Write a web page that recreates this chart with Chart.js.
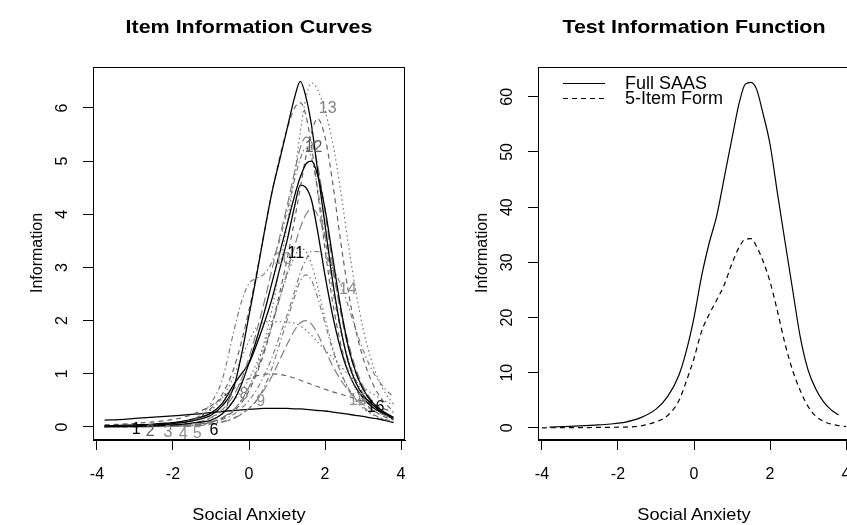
<!DOCTYPE html>
<html>
<head>
<meta charset="utf-8">
<title>Item and Test Information</title>
<script src="https://cdn.jsdelivr.net/npm/chart.js@4.4.0/dist/chart.umd.min.js"></script>
<style>
  html, body { margin: 0; padding: 0; background: #fff; overflow: hidden; }
  body { position: relative; width: 847px; height: 525px; font-family: "Liberation Sans", Arial, Helvetica, sans-serif; color: #000; }
  canvas { position: absolute; top: 0; }
  #itemChart { left: 0; }
  #testChart { left: 423px; }
  .title { position: absolute; top: 17px; font-size: 19px; line-height: 20px; font-weight: bold; transform: translateX(-50%) scaleX(1.13); white-space: nowrap; }
  .xlab { position: absolute; top: 506px; font-size: 17px; line-height: 18px; transform: translateX(-50%) scaleX(1.07); white-space: nowrap; }
  .ylab { position: absolute; top: 253px; font-size: 16px; line-height: 18px; transform: translate(-50%, -50%) rotate(-90deg); white-space: nowrap; }
</style>
</head>
<body>
<canvas id="itemChart" width="423" height="525"></canvas>
<canvas id="testChart" width="450" height="525"></canvas>

<div class="title" style="left:249px">Item Information Curves</div>
<div class="title" style="left:694px">Test Information Function</div>
<div class="xlab" style="left:249px">Social Anxiety</div>
<div class="xlab" style="left:694px">Social Anxiety</div>
<div class="ylab" style="left:37px">Information</div>
<div class="ylab" style="left:482px">Information</div>

<script>
// --- data ---

// theta grid shared by the item curves and the full scale
const theta = [-3.8, -3.4, -3.0, -2.6, -2.2, -1.8, -1.4, -1.0, -0.7, -0.4, -0.2, 0, 0.2, 0.4, 0.6, 0.8, 1.0, 1.2, 1.35, 1.5, 1.65, 1.8, 2.0, 2.2, 2.4, 2.6, 2.8, 3.0, 3.2, 3.4, 3.6, 3.8];
// the short form curve runs a bit wider
const thetaShort = [-4.0, -3.8, -3.4, -3.0, -2.6, -2.2, -1.8, -1.4, -1.0, -0.7, -0.4, -0.2, 0, 0.2, 0.4, 0.6, 0.8, 1.0, 1.2, 1.35, 1.5, 1.65, 1.8, 2.0, 2.2, 2.4, 2.6, 2.8, 3.0, 3.2, 3.4, 3.6, 3.8, 4.0];

const item1  = [0.13, 0.14, 0.16, 0.18, 0.2, 0.22, 0.24, 0.27, 0.29, 0.31, 0.32, 0.33, 0.34, 0.35, 0.35, 0.35, 0.35, 0.34, 0.34, 0.33, 0.32, 0.31, 0.3, 0.28, 0.26, 0.24, 0.22, 0.2, 0.17, 0.15, 0.12, 0.08];
const item2  = [0.04, 0.05, 0.07, 0.09, 0.12, 0.17, 0.26, 0.4, 0.55, 0.72, 0.83, 0.91, 0.96, 0.99, 1.0, 0.99, 0.96, 0.92, 0.88, 0.84, 0.8, 0.76, 0.71, 0.66, 0.62, 0.58, 0.53, 0.48, 0.43, 0.38, 0.33, 0.28];
const item3  = [0.01, 0.01, 0.02, 0.03, 0.05, 0.09, 0.16, 0.32, 0.55, 0.95, 1.3, 1.62, 1.88, 1.97, 1.98, 1.98, 1.97, 1.95, 1.9, 1.82, 1.72, 1.6, 1.45, 1.3, 1.15, 1.0, 0.87, 0.75, 0.65, 0.56, 0.48, 0.41];
const item4  = [0.01, 0.01, 0.02, 0.03, 0.05, 0.08, 0.16, 0.45, 0.9, 1.8, 2.35, 2.7, 2.8, 2.88, 3.1, 3.5, 4.05, 4.65, 5.05, 5.25, 5.05, 4.5, 3.55, 2.6, 1.85, 1.3, 0.9, 0.64, 0.46, 0.34, 0.25, 0.18];
const item5  = [0.0, 0.01, 0.01, 0.01, 0.02, 0.03, 0.05, 0.1, 0.18, 0.33, 0.5, 0.75, 1.05, 1.45, 1.9, 2.4, 2.9, 3.4, 3.75, 4.0, 4.1, 4.0, 3.6, 2.95, 2.25, 1.62, 1.12, 0.77, 0.53, 0.37, 0.26, 0.18];
const item6  = [0.02, 0.03, 0.04, 0.05, 0.07, 0.1, 0.16, 0.26, 0.45, 0.8, 1.0, 1.2, 1.55, 1.95, 2.4, 2.95, 3.5, 4.15, 4.55, 4.5, 4.25, 3.7, 2.85, 2.1, 1.5, 1.05, 0.75, 0.55, 0.4, 0.3, 0.22, 0.15];
const item7  = [0.0, 0.01, 0.01, 0.02, 0.04, 0.08, 0.16, 0.35, 0.62, 1.1, 1.6, 2.2, 2.9, 3.65, 4.4, 5.05, 5.6, 6.0, 6.1, 5.85, 5.25, 4.45, 3.35, 2.35, 1.6, 1.08, 0.73, 0.5, 0.35, 0.25, 0.18, 0.13];
const item8  = [0.0, 0.0, 0.01, 0.01, 0.02, 0.04, 0.08, 0.17, 0.3, 0.5, 0.68, 0.9, 1.2, 1.55, 1.95, 2.4, 2.85, 3.2, 3.35, 3.3, 3.05, 2.65, 2.05, 1.5, 1.05, 0.73, 0.5, 0.35, 0.25, 0.18, 0.13, 0.09];
const item9  = [0.0, 0.0, 0.0, 0.01, 0.01, 0.02, 0.03, 0.06, 0.1, 0.17, 0.25, 0.35, 0.5, 0.75, 1.1, 1.55, 2.0, 2.45, 2.75, 2.86, 2.75, 2.45, 1.95, 1.45, 1.05, 0.75, 0.53, 0.38, 0.27, 0.19, 0.14, 0.1];
const item10 = [0.0, 0.0, 0.01, 0.01, 0.02, 0.04, 0.08, 0.18, 0.33, 0.6, 0.9, 1.3, 1.8, 2.35, 2.95, 3.55, 4.15, 4.8, 5.25, 5.45, 5.35, 4.95, 4.05, 3.05, 2.2, 1.52, 1.03, 0.7, 0.48, 0.33, 0.23, 0.16];
const item11 = [0.01, 0.01, 0.02, 0.03, 0.05, 0.08, 0.13, 0.22, 0.4, 0.75, 1.35, 2.1, 2.85, 3.65, 4.4, 5.0, 5.6, 6.2, 6.5, 6.2, 5.65, 4.85, 3.8, 2.75, 1.9, 1.25, 0.85, 0.6, 0.45, 0.33, 0.24, 0.15];
const item12 = [0.0, 0.0, 0.0, 0.01, 0.01, 0.02, 0.04, 0.09, 0.16, 0.3, 0.45, 0.68, 1.0, 1.4, 1.9, 2.5, 3.15, 3.9, 4.5, 5.1, 5.55, 5.8, 5.45, 4.6, 3.55, 2.6, 1.85, 1.3, 0.9, 0.62, 0.43, 0.3];
const item13 = [0.0, 0.0, 0.0, 0.01, 0.01, 0.02, 0.04, 0.09, 0.17, 0.32, 0.5, 0.75, 1.1, 1.6, 2.2, 2.95, 3.8, 4.75, 5.55, 6.2, 6.47, 6.35, 5.95, 5.35, 4.5, 3.5, 2.6, 1.85, 1.3, 0.9, 0.62, 0.43];
const item14 = [0.0, 0.0, 0.0, 0.01, 0.01, 0.02, 0.04, 0.08, 0.14, 0.24, 0.35, 0.5, 0.7, 0.97, 1.3, 1.7, 2.1, 2.55, 2.9, 3.15, 3.3, 3.3, 3.2, 3.0, 2.7, 2.3, 1.85, 1.45, 1.12, 0.88, 0.7, 0.57];
const item15 = [0.0, 0.0, 0.0, 0.0, 0.01, 0.01, 0.02, 0.05, 0.09, 0.16, 0.24, 0.35, 0.5, 0.7, 0.95, 1.25, 1.55, 1.82, 1.96, 2.0, 1.93, 1.76, 1.45, 1.15, 0.9, 0.7, 0.55, 0.43, 0.34, 0.27, 0.21, 0.17];
const item16 = [0.01, 0.01, 0.01, 0.02, 0.03, 0.05, 0.08, 0.13, 0.25, 0.5, 0.8, 1.2, 1.65, 2.15, 2.7, 3.25, 3.8, 4.35, 4.7, 4.95, 5.0, 4.75, 4.1, 3.2, 2.3, 1.55, 1.05, 0.72, 0.5, 0.36, 0.26, 0.18];

const itemSeries = [item1, item2, item3, item4, item5, item6, item7, item8, item9, item10, item11, item12, item13, item14, item15, item16];

// where the item numbers are printed (theta, information)
const itemLabelX = [-2.97, -2.6, -2.13, -1.73, -1.36, -0.92, -0.55, -0.13, 0.31, 0.89, 1.23, 1.7, 2.07, 2.6, 2.86, 3.33];
const itemLabelY = [-0.05, -0.08, -0.1, -0.14, -0.13, -0.06, 0.47, 0.6, 0.47, 3.14, 3.27, 5.26, 5.98, 2.58, 0.5, 0.36];

// test information
const fullSaas = [0.15, 0.25, 0.35, 0.5, 0.7, 1.05, 1.85, 3.4, 5.6, 9.5, 14, 20, 27.5, 33.5, 38.5, 45.5, 52.5, 59.2, 62.3, 62.6, 61.3, 57.4, 51.4, 42.3, 33.5, 24.8, 16.3, 10.5, 7.1, 4.8, 3.3, 2.35];
const fiveItem = [0.01, 0.02, 0.03, 0.05, 0.07, 0.1, 0.15, 0.35, 1.1, 2.2, 4.9, 8.5, 12.6, 17.5, 20.6, 23.2, 26.0, 29.8, 32.9, 34.2, 34.3, 32.8, 30.5, 26.5, 21.0, 15.1, 10.3, 6.7, 3.9, 2.15, 1.2, 0.7, 0.42, 0.24];
const testLegend = ['Full SAAS', '5-Item Form'];

// tick labels
const xTicks = [-4, -2, 0, 2, 4];
const itemYTicks = [0, 1, 2, 3, 4, 5, 6];
const testYTicks = [0, 10, 20, 30, 40, 50, 60];

// --- styles (R cycles 5 line types / colours) ---
const lineDashes = [[], [5, 4], [1.5, 3], [1.5, 3, 5, 3], [9, 4]];
const lineColors = ['#000000', '#5f5f5f', '#707070', '#787878', '#7c7c7c'];
const labelColors = ['#000000', '#5e5e5e', '#858585', '#8c8c8c', '#8f8f8f'];
const fontFamily = '"Liberation Sans", Arial, Helvetica, sans-serif';

Chart.defaults.font.family = fontFamily;
Chart.defaults.color = '#000';

function toPoints(xs, ys) {
    return ys.map((v, j) => ({ x: xs[j], y: v }));
}

// scale setup shared by both panels
function makeScales(yMin, yMax, yTicks, axisWidth, labelPad) {
    return {
        x: {
            type: 'linear', min: -4.104, max: 4.104,
            afterBuildTicks: s => { s.ticks = xTicks.map(v => ({ value: v })); },
            afterFit: s => { s.height = 85; },
            grid: { drawOnChartArea: false, drawTicks: true, tickLength: 10, color: '#000', tickColor: '#000' },
            border: { display: true, color: '#000', width: 1 },
            ticks: { color: '#000', font: { size: 16 }, padding: 15, maxRotation: 0, autoSkip: false }
        },
        y: {
            type: 'linear', min: yMin, max: yMax,
            afterBuildTicks: s => { s.ticks = yTicks.map(v => ({ value: v })); },
            afterFit: s => { s.width = axisWidth; },
            grid: { drawOnChartArea: false, drawTicks: true, tickLength: 10, color: '#000', tickColor: '#000' },
            border: { display: true, color: '#000', width: 1 },
            ticks: { color: '#000', font: { size: 16 }, padding: labelPad, minRotation: 90, maxRotation: 90, crossAlign: 'center', autoSkip: false }
        }
    };
}

// box round the plot region, like R's box()
const plotBox = {
    id: 'plotBox',
    afterDraw(chart) {
        const { ctx, chartArea: a } = chart;
        ctx.save();
        ctx.strokeStyle = '#000';
        ctx.lineWidth = 1;
        ctx.strokeRect(Math.round(a.left) + 0.5, Math.round(a.top) + 0.5, Math.round(a.right - a.left) - 1, Math.round(a.bottom - a.top) - 1);
        ctx.restore();
    }
};

// item numbers written on the curves
const itemLabels = {
    id: 'itemLabels',
    afterDatasetsDraw(chart) {
        const { ctx, scales: { x, y } } = chart;
        ctx.save();
        ctx.font = '16px ' + fontFamily;
        ctx.textAlign = 'center';
        ctx.textBaseline = 'middle';
        itemLabelX.forEach((lx, i) => {
            ctx.fillStyle = labelColors[i % 5];
            ctx.fillText(String(i + 1), x.getPixelForValue(lx), y.getPixelForValue(itemLabelY[i]));
        });
        ctx.restore();
    }
};

// legend inside the top left corner, no frame
const testLegendBox = {
    id: 'testLegendBox',
    afterDraw(chart) {
        const { ctx, chartArea: a } = chart;
        ctx.save();
        ctx.font = '18px ' + fontFamily;
        ctx.textBaseline = 'middle';
        ctx.fillStyle = '#000';
        chart.data.datasets.forEach((ds, i) => {
            const yy = Math.round(a.top + 16 + i * 15) + 0.5;
            ctx.strokeStyle = ds.borderColor;
            ctx.lineWidth = ds.borderWidth;
            ctx.setLineDash(ds.borderDash);
            ctx.beginPath();
            ctx.moveTo(a.left + 25, yy);
            ctx.lineTo(a.left + 67, yy);
            ctx.stroke();
            ctx.fillText(ds.label, a.left + 87, yy + 1);
        });
        ctx.restore();
    }
};

const baseOptions = {
    responsive: false,
    animation: false,
    events: [],
    plugins: { legend: { display: false }, tooltip: { enabled: false } }
};

// --- left panel: item information curves ---
const itemDatasets = itemSeries.map((vals, i) => {
    const k = i % 5;
    return {
        label: 'Item ' + (i + 1),
        data: toPoints(theta, vals),
        borderColor: lineColors[k],
        borderDash: lineDashes[k],
        borderWidth: k === 0 ? 1.3 : 1.15,
        pointRadius: 0,
        fill: false,
        cubicInterpolationMode: 'monotone',
        order: 16 - i
    };
});

new Chart(document.getElementById('itemChart'), {
    type: 'line',
    data: { datasets: itemDatasets },
    options: Object.assign({}, baseOptions, {
        layout: { padding: { left: 0, right: 18, top: 67, bottom: 0 } },
        scales: makeScales(-0.245, 6.77, itemYTicks, 93, 16)
    }),
    plugins: [plotBox, itemLabels]
});

// --- right panel: test information function ---
new Chart(document.getElementById('testChart'), {
    type: 'line',
    data: {
        datasets: [{
            label: testLegend[0],
            data: toPoints(theta, fullSaas),
            borderColor: '#000', borderDash: [], borderWidth: 1.2,
            pointRadius: 0, fill: false, cubicInterpolationMode: 'monotone'
        }, {
            label: testLegend[1],
            data: toPoints(thetaShort, fiveItem),
            borderColor: '#000', borderDash: [5, 4], borderWidth: 1.2,
            pointRadius: 0, fill: false, cubicInterpolationMode: 'monotone'
        }]
    },
    options: Object.assign({}, baseOptions, {
        layout: { padding: { left: 0, right: 23, top: 67, bottom: 0 } },
        scales: makeScales(-2.2, 65.4, testYTicks, 115, 12)
    }),
    plugins: [plotBox, testLegendBox]
});
</script>
</body>
</html>
